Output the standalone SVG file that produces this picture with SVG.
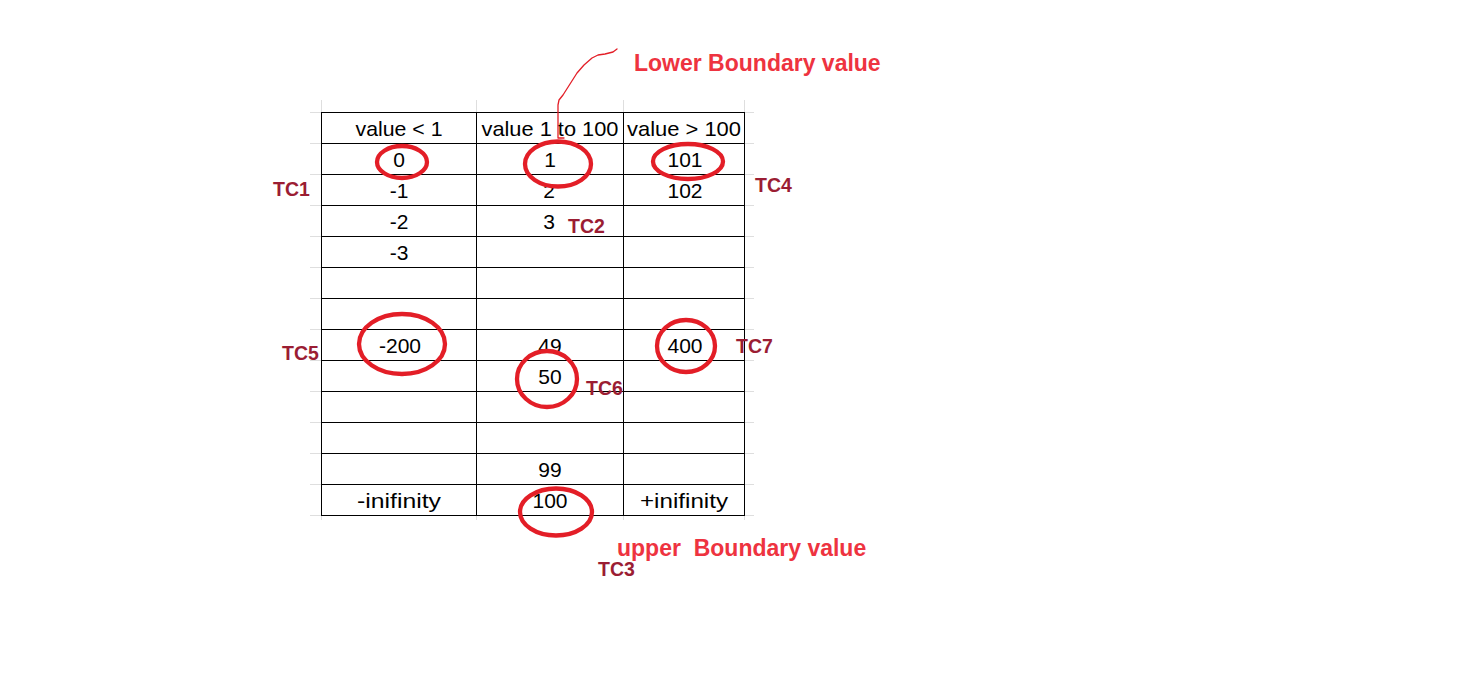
<svg xmlns="http://www.w3.org/2000/svg" width="1477" height="679" viewBox="0 0 1477 679">
<style>
.bg{fill:#ffffff}
.grid{stroke:#dedede;stroke-width:1;fill:none}
.tbl{stroke:#000000;stroke-width:1;fill:none}
.cell{font-family:"Liberation Sans",Arial,sans-serif;font-size:21px;fill:#000000;text-anchor:middle}
.ring{fill:none;stroke:#e31e27;stroke-width:4.3}
.note{font-family:"Liberation Sans",Arial,sans-serif;font-weight:bold;font-size:23px;fill:#ee3340}
.tc{font-family:"Liberation Sans",Arial,sans-serif;font-weight:bold;font-size:19.5px;fill:#9b1d33}
.conn{fill:none;stroke:#e31e27;stroke-width:1.3;stroke-linejoin:round;stroke-linecap:round}
</style>
<rect class="bg" x="0" y="0" width="1477" height="679"/>

<g id="sheet-grid" class="grid">
  <path d="M321.5 100V112.5M476.5 100V112.5M623.5 100V112.5M744.5 100V112.5"/>
  <path d="M321.5 515.5V520M476.5 515.5V520M623.5 515.5V520M744.5 515.5V520"/>
  <path d="M310 112.5H321.5M310 143.5H321.5M310 174.5H321.5M310 205.5H321.5M310 236.5H321.5M310 267.5H321.5M310 298.5H321.5M310 329.5H321.5M310 360.5H321.5M310 391.5H321.5M310 422.5H321.5M310 453.5H321.5M310 484.5H321.5M310 515.5H321.5"/>
  <path d="M744.5 112.5H754M744.5 143.5H754M744.5 174.5H754M744.5 205.5H754M744.5 236.5H754M744.5 267.5H754M744.5 298.5H754M744.5 329.5H754M744.5 360.5H754M744.5 391.5H754M744.5 422.5H754M744.5 453.5H754M744.5 484.5H754M744.5 515.5H754"/>
</g>

<g id="table">
  <g class="tbl">
    <rect x="321.5" y="112.5" width="423" height="403"/>
    <path d="M476.5 112.5V515.5M623.5 112.5V515.5"/>
    <path d="M321.5 143.5H744.5M321.5 174.5H744.5M321.5 205.5H744.5M321.5 236.5H744.5M321.5 267.5H744.5M321.5 298.5H744.5M321.5 329.5H744.5M321.5 360.5H744.5M321.5 391.5H744.5M321.5 422.5H744.5M321.5 453.5H744.5M321.5 484.5H744.5"/>
  </g>
  <g id="col-lt1" class="cell">
    <text x="399" y="136" textLength="87" lengthAdjust="spacingAndGlyphs">value &lt; 1</text>
    <text x="399" y="167">0</text>
    <text x="399" y="198">-1</text>
    <text x="399" y="229">-2</text>
    <text x="399" y="260">-3</text>
    <text x="400" y="353">-200</text>
    <text x="399" y="508" textLength="84" lengthAdjust="spacingAndGlyphs">-inifinity</text>
  </g>
  <g id="col-1to100" class="cell">
    <text x="550" y="136" textLength="137" lengthAdjust="spacingAndGlyphs">value 1 to 100</text>
    <text x="550" y="167">1</text>
    <text x="549" y="198">2</text>
    <text x="549" y="229">3</text>
    <text x="550" y="353">49</text>
    <text x="550" y="384">50</text>
    <text x="550" y="477">99</text>
    <text x="550" y="508">100</text>
  </g>
  <g id="col-gt100" class="cell">
    <text x="684" y="136" textLength="114" lengthAdjust="spacingAndGlyphs">value &gt; 100</text>
    <text x="685" y="167">101</text>
    <text x="685" y="198">102</text>
    <text x="685" y="353">400</text>
    <text x="684" y="508" textLength="88" lengthAdjust="spacingAndGlyphs">+inifinity</text>
  </g>
</g>

<g id="ring-0"><ellipse class="ring" cx="402" cy="162" rx="25" ry="16"/></g>
<g id="ring-1"><ellipse class="ring" cx="558" cy="164" rx="33" ry="22.5"/></g>
<g id="ring-101"><ellipse class="ring" cx="688" cy="161.5" rx="35" ry="17.5"/></g>
<g id="ring-m200"><ellipse class="ring" cx="402" cy="344" rx="43" ry="30"/></g>
<g id="ring-400"><ellipse class="ring" cx="686" cy="346" rx="29" ry="26"/></g>
<g id="ring-50"><ellipse class="ring" cx="547" cy="379" rx="30" ry="28"/></g>
<g id="ring-100"><ellipse class="ring" cx="556" cy="512" rx="36" ry="23.5"/></g>

<g id="connectors">
  <path class="conn" d="M617 49L613 52L605 54L598 55L592 58L584 65L577 73L570 84L563 95L559 100L558 105L558 138L564 138"/>
</g>

<g id="label-lower"><text class="note" x="634" y="71">Lower Boundary value</text></g>
<g id="label-upper"><text class="note" x="617" y="556" xml:space="preserve">upper  Boundary value</text></g>

<g id="tc1"><text class="tc" x="273" y="196">TC1</text></g>
<g id="tc2"><text class="tc" x="568" y="233">TC2</text></g>
<g id="tc3"><text class="tc" x="598" y="576">TC3</text></g>
<g id="tc4"><text class="tc" x="755" y="192">TC4</text></g>
<g id="tc5"><text class="tc" x="282" y="360">TC5</text></g>
<g id="tc6"><text class="tc" x="586" y="395">TC6</text></g>
<g id="tc7"><text class="tc" x="736" y="353">TC7</text></g>
</svg>
